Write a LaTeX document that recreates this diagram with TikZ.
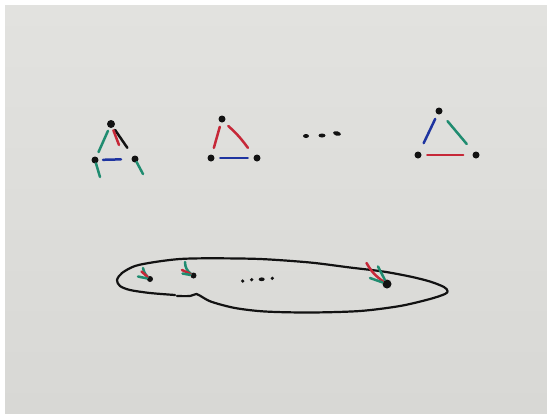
\documentclass[tikz,border=0pt]{standalone}
\usepackage{xcolor}
\usetikzlibrary{calc}
\definecolor{board}{RGB}{216,216,213}
\definecolor{boardtop}{RGB}{226,226,223}
\definecolor{mkgreen}{RGB}{32,140,112}
\definecolor{mkred}{RGB}{198,40,56}
\definecolor{mkblue}{RGB}{30,52,160}
\definecolor{mkblack}{RGB}{18,18,18}

\begin{document}
\begin{tikzpicture}[x=1pt, y=-1pt,
  vtx/.style={circle, fill=mkblack, inner sep=0pt, minimum size=7pt},
  pen/.style={line width=2.5pt, line cap=round},
]
  \useasboundingbox (0,0) rectangle (547,413);
  \fill[white] (0,0) rectangle (547,413);
  \shade[top color=boardtop, bottom color=board] (5,5) rectangle (547,413);

  % first triangle
  \node[vtx, minimum size=8pt] (A1) at (111,124) {};
  \node[vtx] (B1) at (95,160)  {};
  \node[vtx] (C1) at (135,159) {};
  \coordinate (r1) at (119,145);
  \coordinate (g1) at (100,177);
  \coordinate (g2) at (143,174);
  \draw[pen, mkgreen] ($(A1)!.19!(B1)$) -- ($(A1)!.78!(B1)$);
  \draw[pen, mkblack] ($(A1)!.17!(C1)$) -- ($(A1)!.68!(C1)$);
  \draw[pen, mkred]   ($(A1)!.3!(r1)$) -- (r1);
  \draw[pen, mkblue]  ($(B1)!.2!(C1)$) -- ($(B1)!.65!(C1)$);
  \draw[pen, mkgreen] ($(B1)!.2!(g1)$) -- (g1);
  \draw[pen, mkgreen] ($(C1)!.2!(g2)$) -- (g2);

  % second triangle
  \node[vtx] (A2) at (222,119) {};
  \node[vtx] (B2) at (211,158) {};
  \node[vtx] (C2) at (257,158) {};
  \draw[pen, mkred]  ($(A2)!.2!(B2)$) -- ($(A2)!.74!(B2)$);
  \draw[pen, mkred]  ($(A2)!.18!(C2)$) to[bend left=6] ($(A2)!.74!(C2)$);
  \draw[pen, mkblue] ($(B2)!.2!(C2)$) -- ($(B2)!.8!(C2)$);

  % dots between
  \fill[mkblack] (306,136) ellipse (3 and 2);
  \fill[mkblack] (322,135.5) ellipse (3.5 and 2);
  \fill[mkblack, rotate around={-15:(337,133.5)}] (337,133.5) ellipse (4 and 2.2);

  % last triangle
  \node[vtx] (A3) at (439,111) {};
  \node[vtx] (B3) at (418,155) {};
  \node[vtx] (C3) at (476,155) {};
  \draw[pen, mkblue]  ($(A3)!.18!(B3)$) -- ($(A3)!.73!(B3)$);
  \draw[pen, mkgreen] ($(A3)!.23!(C3)$) -- ($(A3)!.75!(C3)$);
  \draw[pen, mkred]   ($(B3)!.16!(C3)$) -- ($(B3)!.78!(C3)$);

  % the long loop
  \draw[line width=2.2pt, mkblack, line cap=round] plot[smooth, tension=.5] coordinates {
    (177,296) (190,296) (196.5,294) (203,297.5) (212,302) (235,308)
    (265,311.5) (310,312.5) (360,311) (400,306) (430,299) (445,294)
    (447.5,291) (444,287) (430,281.5) (410,276.5) (383,271.5) (350,267.5)
    (310,262.5) (260,259) (210,258.3) (180,259) (155,262) (135,266)
    (122,273) (117,280) (120,286) (130,290) (150,293) (175,295)};

  % points on the loop
  \node[vtx, minimum size=6pt] (E1) at (150,279) {};
  \node[vtx, minimum size=6pt] (E2) at (193.5,275.5) {};
  \node[vtx, minimum size=9pt] (E3) at (387,284) {};
  \coordinate (e1a) at (143,268);
  \coordinate (e1b) at (141.5,271.5);
  \coordinate (e1c) at (138,276.5);
  \draw[pen, mkgreen] (e1a) to[bend right=15] (E1);
  \draw[pen, mkred]   (e1b) -- (E1);
  \draw[pen, mkgreen] (e1c) -- (E1);
  \coordinate (e2a) at (185,262);
  \coordinate (e2b) at (182,270);
  \coordinate (e2c) at (182.5,273.5);
  \draw[pen, mkgreen] (e2a) to[bend right=25] (E2);
  \draw[pen, mkred]   (e2b) -- (E2);
  \draw[pen, mkgreen] (e2c) -- (E2);
  \coordinate (e3a) at (366.5,263);
  \coordinate (e3b) at (378,266.5);
  \coordinate (e3c) at (370,278);
  \draw[pen, mkred]   (e3a) to[bend right=12] (E3);
  \draw[pen, mkgreen] (e3b) -- (E3);
  \draw[pen, mkgreen] (e3c) -- (E3);

  % dots inside the loop
  \fill[mkblack] (242.7,281) circle (1.8);
  \fill[mkblack] (251.7,279.7) circle (1.8);
  \fill[mkblack] (261.7,279.3) ellipse (3 and 1.9);
  \fill[mkblack] (272.3,278.3) circle (1.8);
\end{tikzpicture}
\end{document}
